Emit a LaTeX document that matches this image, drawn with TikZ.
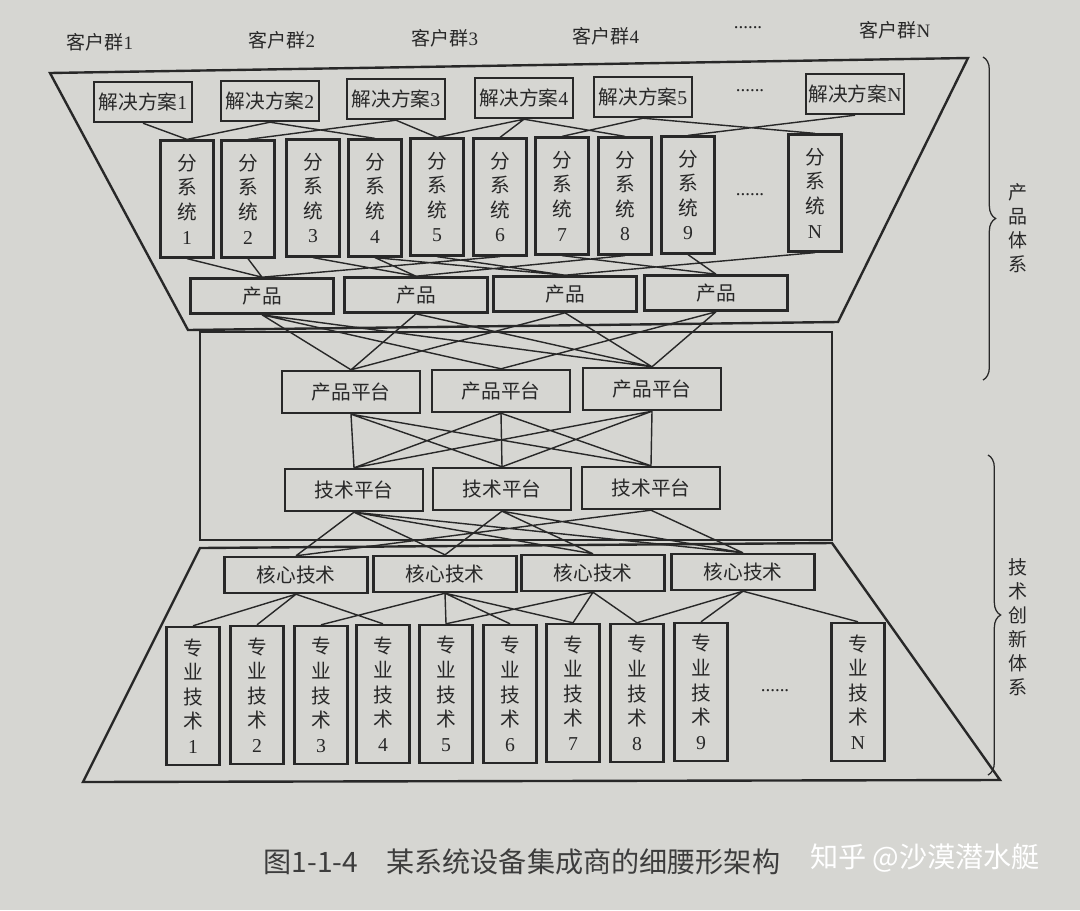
\documentclass[tikz,border=0pt]{standalone}
\usepackage{fontspec}
\setmainfont{Liberation Serif}
\newfontfamily\cjk{Noto Sans CJK SC}
\newcommand{\rn}[1]{{\rmfamily #1}}
\usetikzlibrary{decorations.pathreplacing}
\definecolor{paper}{RGB}{214,214,210}
\definecolor{ink}{RGB}{40,40,40}

\tikzset{
  box/.style={draw=ink, line width=1.7pt, inner sep=0pt, text=ink,
    font=\cjk\fontsize{14}{17.5}\selectfont, align=center},
  sol/.style={box, minimum width=2.45cm, minimum height=1cm},
  sub/.style={box, minimum width=1.32cm, minimum height=2.92cm},
  prod/.style={box, minimum width=3.57cm, minimum height=0.88cm},
  plat/.style={box, minimum width=3.45cm, minimum height=1.05cm},
  core/.style={box, minimum width=3.57cm, minimum height=0.9cm},
  spec/.style={box, minimum width=1.32cm, minimum height=3.45cm},
  group/.style={text=ink, font=\cjk\fontsize{13.5}{17}\selectfont},
  link/.style={draw=ink, line width=1pt},
  frame/.style={draw=ink, line width=1.7pt},
}

\begin{document}
\begin{tikzpicture}[x=0.025cm, y=-0.025cm]
\fill[paper] (0,0) rectangle (1080,910);
\useasboundingbox (0,0) rectangle (1080,910);

% customer groups
\node[group] (grp1) at (100,42) {客户群\rn{1}};
\node[group] (grp2) at (282,40) {客户群\rn{2}};
\node[group] (grp3) at (445,38) {客户群\rn{3}};
\node[group] (grp4) at (606,36) {客户群\rn{4}};
\node[group] (grpdots) at (748,28) {\rn{......}};
\node[group] (grpN) at (895,30) {客户群\rn{N}};

% outlines
\draw[frame] (50,73) -- (968,58) -- (838,322) -- (188,330) -- cycle;
\draw[frame] (200,332) rectangle (832,540);
\draw[frame] (200,548) -- (832,543) -- (1000,780) -- (83,782) -- cycle;

% solutions
\node[sol] (sol1) at (143,102) {解决方案\rn{1}};
\node[sol] (sol2) at (270,101) {解决方案\rn{2}};
\node[sol] (sol3) at (396,99) {解决方案\rn{3}};
\node[sol] (sol4) at (524,98) {解决方案\rn{4}};
\node[sol] (sol5) at (643,97) {解决方案\rn{5}};
\node[group] (soldots) at (750,91) {\rn{......}};
\node[sol] (solN) at (855,94) {解决方案\rn{N}};

% subsystems
\node[sub] (sub1) at (187,199) {分\\系\\统\\\rn{1}};
\node[sub] (sub2) at (248,199) {分\\系\\统\\\rn{2}};
\node[sub] (sub3) at (313,198) {分\\系\\统\\\rn{3}};
\node[sub] (sub4) at (375,198) {分\\系\\统\\\rn{4}};
\node[sub] (sub5) at (437,197) {分\\系\\统\\\rn{5}};
\node[sub] (sub6) at (500,197) {分\\系\\统\\\rn{6}};
\node[sub] (sub7) at (562,196) {分\\系\\统\\\rn{7}};
\node[sub] (sub8) at (625,196) {分\\系\\统\\\rn{8}};
\node[sub] (sub9) at (688,195) {分\\系\\统\\\rn{9}};
\node[group] (subdots) at (750,195) {\rn{......}};
\node[sub] (subN) at (815,193) {分\\系\\统\\\rn{N}};

% products
\node[prod] (prod1) at (262,296) {产品};
\node[prod] (prod2) at (416,295) {产品};
\node[prod] (prod3) at (565,294) {产品};
\node[prod] (prod4) at (716,293) {产品};

% platforms
\node[plat] (pplat1) at (351,392) {产品平台};
\node[plat] (pplat2) at (501,391) {产品平台};
\node[plat] (pplat3) at (652,389) {产品平台};
\node[plat] (tplat1) at (354,490) {技术平台};
\node[plat] (tplat2) at (502,489) {技术平台};
\node[plat] (tplat3) at (651,488) {技术平台};

% core technologies
\node[core] (core1) at (296,575) {核心技术};
\node[core] (core2) at (445,574) {核心技术};
\node[core] (core3) at (593,573) {核心技术};
\node[core] (core4) at (743,572) {核心技术};

% specialities
\node[spec] (spec1) at (193,696) {专\\业\\技\\术\\\rn{1}};
\node[spec] (spec2) at (257,695) {专\\业\\技\\术\\\rn{2}};
\node[spec] (spec3) at (321,695) {专\\业\\技\\术\\\rn{3}};
\node[spec] (spec4) at (383,694) {专\\业\\技\\术\\\rn{4}};
\node[spec] (spec5) at (446,694) {专\\业\\技\\术\\\rn{5}};
\node[spec] (spec6) at (510,694) {专\\业\\技\\术\\\rn{6}};
\node[spec] (spec7) at (573,693) {专\\业\\技\\术\\\rn{7}};
\node[spec] (spec8) at (637,693) {专\\业\\技\\术\\\rn{8}};
\node[spec] (spec9) at (701,692) {专\\业\\技\\术\\\rn{9}};
\node[group] (specdots) at (775,691) {\rn{......}};
\node[spec] (specN) at (858,692) {专\\业\\技\\术\\\rn{N}};

% solutions -- subsystems
\draw[link] (sol1.south) -- (sub1.north) (sol2.south) -- (sub1.north)
  (sol2.south) -- (sub4.north) (sol3.south) -- (sub2.north)
  (sol3.south) -- (sub5.north) (sol4.south) -- (sub5.north)
  (sol4.south) -- (sub6.north) (sol4.south) -- (sub8.north)
  (sol5.south) -- (sub7.north) (sol5.south) -- (subN.north)
  (solN.south) -- (sub9.north);

% subsystems -- products
\draw[link] (sub1.south) -- (prod1.north) (sub2.south) -- (prod1.north)
  (sub6.south) -- (prod1.north) (sub3.south) -- (prod2.north)
  (sub4.south) -- (prod2.north) (sub8.south) -- (prod2.north)
  (sub4.south) -- (prod3.north) (sub5.south) -- (prod3.north)
  (subN.south) -- (prod3.north) (sub7.south) -- (prod4.north)
  (sub9.south) -- (prod4.north);

% products -- product platforms
\draw[link] (prod1.south) -- (pplat1.north) (prod1.south) -- (pplat2.north)
  (prod1.south) -- (pplat3.north) (prod2.south) -- (pplat1.north)
  (prod2.south) -- (pplat3.north) (prod3.south) -- (pplat1.north)
  (prod3.south) -- (pplat3.north) (prod4.south) -- (pplat2.north)
  (prod4.south) -- (pplat3.north);

% product platforms -- technology platforms
\draw[link] (pplat1.south) -- (tplat1.north) (pplat1.south) -- (tplat2.north)
  (pplat1.south) -- (tplat3.north) (pplat2.south) -- (tplat1.north)
  (pplat2.south) -- (tplat2.north) (pplat2.south) -- (tplat3.north)
  (pplat3.south) -- (tplat1.north) (pplat3.south) -- (tplat2.north)
  (pplat3.south) -- (tplat3.north);

% technology platforms -- core technologies
\draw[link] (tplat1.south) -- (core1.north) (tplat1.south) -- (core2.north)
  (tplat1.south) -- (core3.north) (tplat1.south) -- (core4.north)
  (tplat2.south) -- (core2.north) (tplat2.south) -- (core3.north)
  (tplat2.south) -- (core4.north) (tplat3.south) -- (core1.north)
  (tplat3.south) -- (core4.north);

% core technologies -- specialities
\draw[link] (core1.south) -- (spec1.north) (core1.south) -- (spec2.north)
  (core1.south) -- (spec4.north) (core2.south) -- (spec3.north)
  (core2.south) -- (spec5.north) (core2.south) -- (spec6.north)
  (core2.south) -- (spec7.north) (core3.south) -- (spec5.north)
  (core3.south) -- (spec7.north) (core3.south) -- (spec8.north)
  (core4.south) -- (spec8.north) (core4.south) -- (spec9.north)
  (core4.south) -- (specN.north);

% braces
\draw[ink, line width=0.9pt, decorate, decoration={brace, amplitude=9pt}]
  (983,57) -- (983,380);
\node[group, align=center] (prodsys) at (1018,228) {产\\品\\体\\系};
\draw[ink, line width=0.9pt, decorate, decoration={brace, amplitude=9pt}]
  (988,455) -- (988,775);
\node[group, align=center] (techsys) at (1018,627) {技\\术\\创\\新\\体\\系};

% caption
\node[text=ink!90, font=\cjk\fontsize{20}{24}\selectfont] (caption) at (522,862)
  {图1-1-4\quad 某系统设备集成商的细腰形架构};
\node[text=white, font=\cjk\fontsize{20}{24}\selectfont] (mark) at (925,858)
  {知乎 @沙漠潜水艇};
\end{tikzpicture}
\end{document}
